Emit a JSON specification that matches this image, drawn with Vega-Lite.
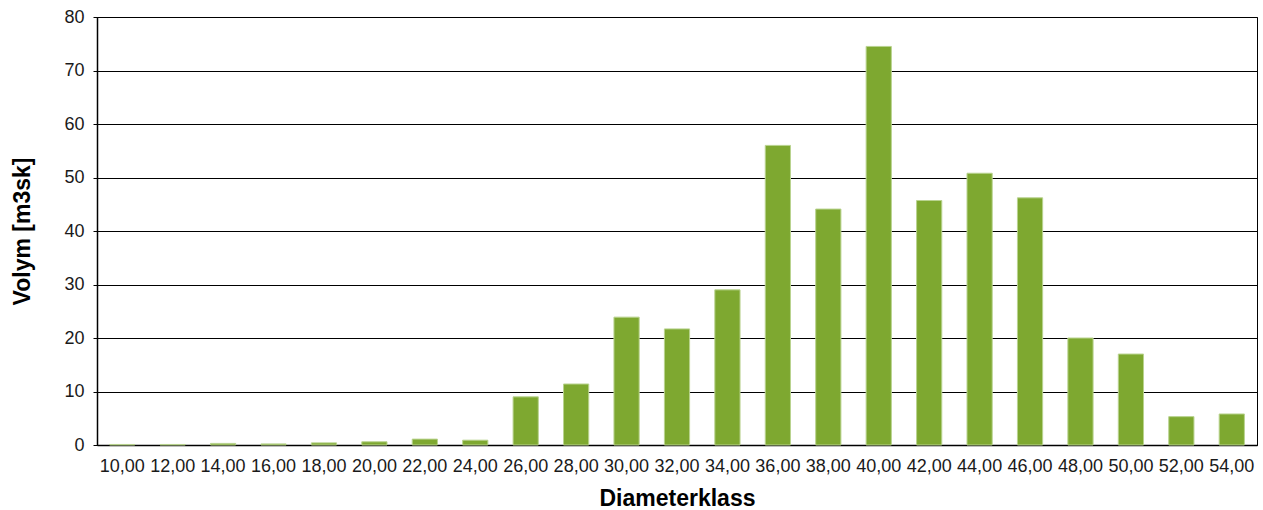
{
  "$schema": "https://vega.github.io/schema/vega-lite/v6.json",
  "autosize": {"type": "none"},
  "padding": {"left": 97, "top": 17, "right": 6, "bottom": 65},
  "width": 1160,
  "height": 428,
  "background": "white",
  "config": {
    "font": "Liberation Sans",
    "view": {"stroke": "#000000", "strokeWidth": 1},
    "axis": {
      "labelFont": "Liberation Sans",
      "titleFont": "Liberation Sans",
      "labelColor": "#1a1a1a",
      "titleColor": "#000000",
      "labelFontSize": 18,
      "titleFontSize": 23,
      "titleFontWeight": "bold",
      "domainColor": "#000000",
      "domainWidth": 1.5
    }
  },
  "data": {
    "values": [
      {"klass": "10,00", "volym": 0.1},
      {"klass": "12,00", "volym": 0.1},
      {"klass": "14,00", "volym": 0.3},
      {"klass": "16,00", "volym": 0.2},
      {"klass": "18,00", "volym": 0.4},
      {"klass": "20,00", "volym": 0.6},
      {"klass": "22,00", "volym": 1.1},
      {"klass": "24,00", "volym": 0.9},
      {"klass": "26,00", "volym": 9.0},
      {"klass": "28,00", "volym": 11.4},
      {"klass": "30,00", "volym": 23.9},
      {"klass": "32,00", "volym": 21.7},
      {"klass": "34,00", "volym": 29.0},
      {"klass": "36,00", "volym": 56.0},
      {"klass": "38,00", "volym": 44.1},
      {"klass": "40,00", "volym": 74.5},
      {"klass": "42,00", "volym": 45.7},
      {"klass": "44,00", "volym": 50.8},
      {"klass": "46,00", "volym": 46.2},
      {"klass": "48,00", "volym": 20.0},
      {"klass": "50,00", "volym": 17.0},
      {"klass": "52,00", "volym": 5.3},
      {"klass": "54,00", "volym": 5.8}
    ]
  },
  "mark": {"type": "bar", "color": "#7EA830", "stroke": "#b9d38f", "strokeWidth": 1},
  "encoding": {
    "x": {
      "field": "klass",
      "type": "ordinal",
      "sort": null,
      "title": "Diameterklass",
      "scale": {"paddingInner": 0.5, "paddingOuter": 0.25},
      "axis": {"labelAngle": 0, "labelPadding": 12, "titlePadding": 12, "grid": false, "ticks": false}
    },
    "y": {
      "field": "volym",
      "type": "quantitative",
      "title": "Volym [m3sk]",
      "scale": {"domain": [0, 80], "nice": false},
      "axis": {
        "values": [0, 10, 20, 30, 40, 50, 60, 70, 80],
        "grid": true,
        "gridColor": "#000000",
        "gridOpacity": 1,
        "gridWidth": 1,
        "ticks": true,
        "tickSize": 4,
        "tickColor": "#000000",
        "labelPadding": 9,
        "titlePadding": 29
      }
    }
  }
}
